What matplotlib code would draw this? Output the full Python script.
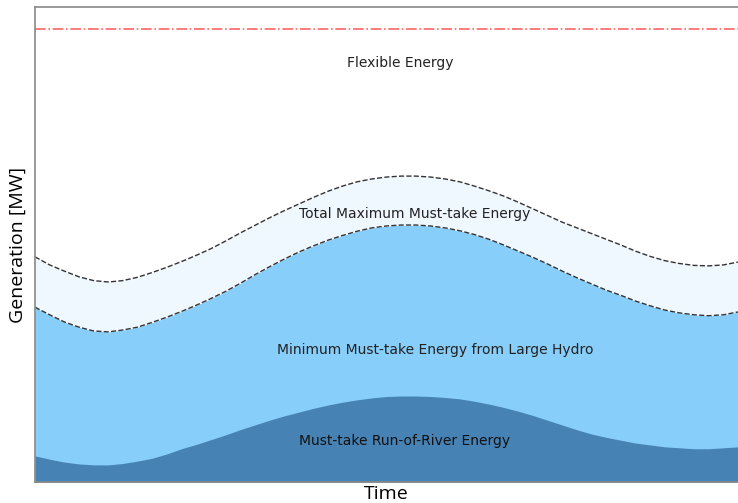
import numpy as np
import matplotlib.pyplot as plt

# half-hour steps over one day
hours = np.arange(0, 24.5, 0.5)

# generation levels (arbitrary MW scale, 0-100)
run_of_river = [5.5, 4.8, 4.2, 3.8, 3.6, 3.6, 3.9, 4.4, 5.0, 5.9, 7.0, 7.9, 8.9, 9.9, 11.0,
                12.0, 13.0, 13.9, 14.7, 15.5, 16.2, 16.8, 17.3, 17.7, 18.0, 18.1, 18.1, 18.0,
                17.8, 17.5, 17.0, 16.4, 15.7, 14.9, 14.0, 13.0, 12.0, 11.0, 10.1, 9.4, 8.8,
                8.2, 7.8, 7.4, 7.2, 7.0, 7.0, 7.2, 7.4]
min_hydro = [36.8, 35.2, 33.7, 32.6, 31.8, 31.6, 32.0, 32.6, 33.6, 34.7, 35.9, 37.2, 38.6,
             40.1, 41.8, 43.6, 45.3, 46.9, 48.4, 49.7, 50.9, 51.9, 52.8, 53.5, 53.9, 54.1,
             54.1, 53.9, 53.5, 52.9, 52.1, 51.1, 49.9, 48.6, 47.3, 45.9, 44.4, 43.0, 41.7,
             40.4, 39.3, 38.1, 37.1, 36.2, 35.6, 35.2, 35.0, 35.2, 35.8]
max_must_take = [47.4, 45.7, 44.4, 43.2, 42.4, 42.1, 42.4, 43.1, 44.1, 45.2, 46.4, 47.7, 49.1,
                 50.7, 52.4, 54.0, 55.6, 57.1, 58.5, 59.9, 61.2, 62.3, 63.2, 63.8, 64.2, 64.4,
                 64.4, 64.2, 63.8, 63.2, 62.3, 61.3, 60.2, 58.9, 57.5, 56.1, 54.7, 53.5, 52.3,
                 51.1, 49.9, 48.6, 47.5, 46.6, 46.0, 45.6, 45.5, 45.7, 46.3]
capacity = 95.4

fig = plt.figure(figsize=(7.38, 5.03), dpi=100)
ax = fig.add_axes([35 / 738, 21 / 503, 703 / 738, 475 / 503])

ax.fill_between(hours, 0, min_hydro, color="#87CEFA", lw=0)
ax.fill_between(hours, 0, run_of_river, color="#4682B4", lw=0)
ax.fill_between(hours, min_hydro, max_must_take, color="#F0F8FF", lw=0)
ax.plot(hours, min_hydro, "--", color="#333333", lw=1)
ax.plot(hours, max_must_take, "--", color="#333333", lw=1)
ax.axhline(capacity, color="red", ls="-.", lw=1.2, alpha=0.6)

ax.text(12.46, 88.2, "Flexible Energy", ha="center", va="center", fontsize=10, color="#222222")
ax.text(12.97, 56.4, "Total Maximum Must-take Energy", ha="center", va="center", fontsize=10, color="#222222")
ax.text(13.66, 27.8, "Minimum Must-take Energy from Large Hydro", ha="center", va="center", fontsize=10, color="#222222")
ax.text(12.63, 8.6, "Must-take Run-of-River Energy", ha="center", va="center", fontsize=10, color="#111111")

ax.set_xlim(0, 24)
ax.set_ylim(0, 100)
ax.set_xticks([])
ax.set_yticks([])
for s in ax.spines.values():
    s.set_color("#888888")
    s.set_linewidth(1.2)
ax.spines["right"].set_visible(False)

ax.set_xlabel("Time", fontsize=14, family="Open Sans", labelpad=2)
ax.set_ylabel("Generation [MW]", fontsize=14, family="Open Sans", labelpad=6)

fig.savefig("out.png", dpi=100)
